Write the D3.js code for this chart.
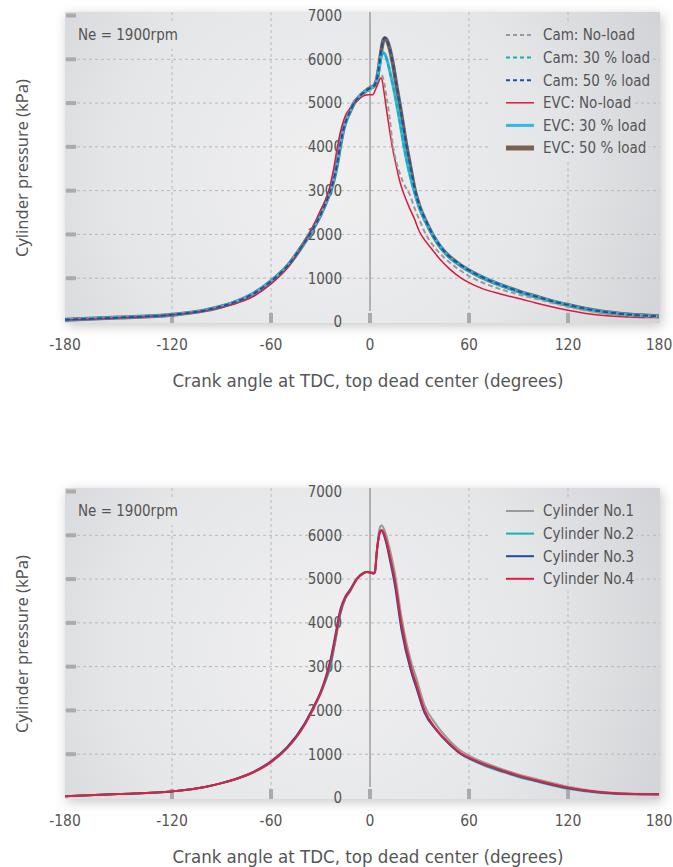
<!DOCTYPE html>
<html>
<head>
<meta charset="utf-8">
<script src="https://cdn.jsdelivr.net/npm/d3@7"></script>
<style>
  body { margin: 0; background: #fff; }
  svg { display: block; }
  .cond { font-family: "Liberation Sans Narrow", "DejaVu Sans Condensed", sans-serif; fill: #555; }
  .reg { font-family: "Noto Sans", "Open Sans", sans-serif; fill: #555; }
</style>
</head>
<body>
<div id="chart"></div>
<script>
// crank angles (deg) and pressures (kPa)
var angTop = [-180,-150,-120,-100,-90,-80,-70,-60,-50,-40,
  -35,-30,-25,-22,-20,-18,-16,-14,-12,-10,
  -7,-5,-3,-1,0,1,2,3,4,5,
  6,7,8,9,10,11,12,14,16,18,
  20,22,24,27,30,34,38,42,48,55,
  60,67,79,92,100,110,120,140,160,180];

var camNoLoad = [50,100,166,265,355,480,660,930,1280,1800,
  2110,2460,2900,3260,3610,4080,4450,4690,4850,4990,
  5110,5180,5240,5280,5300,5320,5350,5400,5470,5560,
  5640,5650,5560,5380,5150,4900,4620,4000,3650,3400,
  3200,3050,2920,2600,2330,1990,1760,1580,1370,1170,
  1050,920,750,610,535,440,350,215,145,115];
var cam30 = [50,100,166,265,355,480,660,930,1280,1800,
  2100,2450,2900,3250,3600,4050,4420,4650,4820,4980,
  5120,5200,5260,5310,5330,5350,5370,5410,5500,5680,
  5900,6080,6140,6110,6020,5880,5720,5380,5000,4580,
  4130,3720,3380,2950,2600,2260,1980,1740,1480,1280,
  1165,1030,840,670,580,472,382,245,166,127];
var cam50 = [50,100,166,265,355,480,660,930,1280,1800,
  2100,2450,2900,3250,3600,4050,4420,4650,4820,4980,
  5120,5200,5260,5320,5340,5360,5380,5420,5520,5720,
  5980,6250,6440,6500,6460,6370,6240,5880,5420,4980,
  4520,4050,3650,3050,2650,2300,2000,1760,1500,1300,
  1180,1040,850,680,590,480,390,250,170,130];
var evcNoLoad = [45,90,160,250,330,440,600,870,1240,1800,
  2150,2550,3000,3500,3950,4330,4600,4780,4880,4980,
  5080,5140,5180,5190,5190,5190,5200,5280,5370,5460,
  5550,5570,5380,5120,4850,4600,4350,3900,3550,3220,
  2980,2780,2600,2350,2060,1830,1640,1450,1220,1010,
  900,780,640,520,440,350,270,160,115,100];
var evc30 = [50,100,166,265,355,480,660,930,1280,1800,
  2100,2450,2900,3250,3600,4050,4420,4650,4820,4980,
  5120,5200,5260,5310,5330,5350,5370,5410,5500,5690,
  5920,6100,6150,6120,6030,5890,5730,5390,5010,4590,
  4140,3730,3390,2960,2610,2270,1990,1750,1485,1285,
  1170,1035,845,675,585,476,386,247,168,128];
var evc50 = [50,100,166,265,355,480,660,930,1280,1800,
  2100,2450,2900,3250,3600,4050,4420,4650,4820,4980,
  5120,5200,5260,5320,5340,5360,5380,5420,5520,5710,
  5970,6230,6420,6480,6450,6360,6230,5870,5410,4970,
  4510,4040,3640,3040,2640,2290,1990,1750,1495,1295,
  1175,1037,847,678,588,478,388,249,169,129];

var angBot = [-180,-150,-120,-100,-90,-80,-70,-60,-50,-40,
  -35,-30,-27,-24,-21,-18,-15,-12,-8,-4,
  -2,0,2,3,4,5,6,7,8,10,
  12,15,19,25,28,33,40,48,55,60,
  70,80,90,100,120,140,160,180];

var cyl1 = [40,90,150,250,340,450,600,820,1150,1650,
  2000,2380,2680,3060,3600,4200,4540,4720,4990,5130,
  5170,5170,5150,5180,5550,5950,6180,6230,6180,5980,
  5680,5150,4150,3100,2750,2120,1680,1320,1080,970,
  800,660,540,440,260,150,102,88];
var cyl2 = [40,90,150,250,340,450,600,820,1150,1650,
  2000,2380,2660,3000,3580,4200,4560,4730,4990,5130,
  5160,5150,5130,5160,5600,5900,6080,6110,6070,5840,
  5510,4970,3970,2950,2590,1990,1570,1230,1000,900,
  730,600,480,385,210,120,86,80];
var cyl3 = [40,90,150,250,340,450,610,840,1170,1680,
  2030,2420,2740,3150,3720,4300,4600,4760,5010,5140,
  5160,5150,5130,5150,5560,5870,6070,6110,6050,5800,
  5450,4880,3860,2880,2530,1950,1560,1230,1010,910,
  750,620,500,400,228,130,92,84];
var cyl4 = [40,90,150,250,340,450,600,820,1150,1650,
  2000,2400,2700,3100,3650,4250,4570,4740,5000,5130,
  5160,5150,5130,5160,5600,5900,6080,6120,6080,5850,
  5520,4980,3980,2960,2600,2000,1580,1250,1020,920,
  760,630,510,410,235,135,95,85];

var xTicks = [-180,-120,-60,0,60,120,180];
var yTicks = [0,1000,2000,3000,4000,5000,6000,7000];

var topSeries = [
  { name: "EVC: 50 % load", values: evc50, color: "#7a6251", width: 4, dash: null },
  { name: "EVC: 30 % load", values: evc30, color: "#33b8e3", width: 3, dash: null },
  { name: "EVC: No-load", values: evcNoLoad, color: "#d91a3c", width: 1.5, dash: null },
  { name: "Cam: No-load", values: camNoLoad, color: "#9a9a9a", width: 2, dash: "5,3" },
  { name: "Cam: 30 % load", values: cam30, color: "#16aeae", width: 2, dash: "5,3" },
  { name: "Cam: 50 % load", values: cam50, color: "#1c4fa3", width: 2, dash: "5,3" }
];
var topLegend = ["Cam: No-load","Cam: 30 % load","Cam: 50 % load","EVC: No-load","EVC: 30 % load","EVC: 50 % load"];

var botSeries = [
  { name: "Cylinder No.1", values: cyl1, color: "#9a9a9a", width: 2, dash: null },
  { name: "Cylinder No.2", values: cyl2, color: "#12b5b0", width: 2, dash: null },
  { name: "Cylinder No.3", values: cyl3, color: "#1d4d9e", width: 2, dash: null },
  { name: "Cylinder No.4", values: cyl4, color: "#e0203f", width: 2, dash: null }
];
var botLegend = ["Cylinder No.1","Cylinder No.2","Cylinder No.3","Cylinder No.4"];

var width = 673, height = 867;
var svg = d3.select("#chart").append("svg")
  .attr("width", width).attr("height", height);
var defs = svg.append("defs");

var shadow = defs.append("filter").attr("id", "shadow")
  .attr("x", "-10%").attr("y", "-10%").attr("width", "120%").attr("height", "120%");
shadow.append("feDropShadow").attr("dx", 2).attr("dy", 3)
  .attr("stdDeviation", 6).attr("flood-color", "#000").attr("flood-opacity", 0.22);

// same x scale for both panels (uneven ends as in the picture)
var x = d3.scaleLinear()
  .domain([-180, -120, 120, 180])
  .range([65, 172, 568, 659]);

function panel(off, angles, series, legendNames, id) {
  var px0 = 65, px1 = 660, pyTop = 12 + off, pyBot = 323 + off;
  var y = d3.scaleLinear().domain([0, 7000]).range([322 + off, 15.5 + off]);
  var rowY = i => 35 + off + i * 22.6;

  var grad = defs.append("radialGradient").attr("id", id)
    .attr("gradientUnits", "userSpaceOnUse")
    .attr("cx", 330).attr("cy", 175 + off).attr("r", 360);
  grad.append("stop").attr("offset", 0).attr("stop-color", "#f0f0f1");
  grad.append("stop").attr("offset", 0.6).attr("stop-color", "#e5e6e8");
  grad.append("stop").attr("offset", 1).attr("stop-color", "#d3d4d7");

  var g = svg.append("g");
  // shadow drawn separately so the plot fill stays unfiltered
  g.append("rect").attr("x", px0).attr("y", pyTop)
    .attr("width", px1 - px0).attr("height", pyBot - pyTop)
    .attr("fill", "#ddd").attr("filter", "url(#shadow)");
  g.append("rect").attr("x", px0).attr("y", pyTop)
    .attr("width", px1 - px0).attr("height", pyBot - pyTop)
    .attr("fill", "url(#" + id + ")");

  // grid
  g.append("g").selectAll("line").data(yTicks.filter(d => d > 0 && d < 7000)).join("line")
    .attr("x1", px0).attr("x2", px1).attr("y1", d => y(d)).attr("y2", d => y(d))
    .attr("stroke", "#b8b8b8").attr("stroke-dasharray", "3,3");
  g.append("g").selectAll("line").data(xTicks.filter(d => d != 0 && Math.abs(d) < 180)).join("line")
    .attr("x1", d => x(d)).attr("x2", d => x(d)).attr("y1", pyTop).attr("y2", pyBot)
    .attr("stroke", "#b8b8b8").attr("stroke-dasharray", "3,3");

  // text boxes hide grid behind them (no transforms, so the gradient lines up)
  var noteBox = g.append("rect").attr("fill", "url(#" + id + ")");
  var noteText = g.append("text").attr("class", "cond")
    .attr("x", 78).attr("y", 35 + off).attr("dy", "0.35em")
    .style("font-size", "15px").text("Ne = 1900rpm");
  var nw = noteText.node().getComputedTextLength();
  noteBox.attr("x", 70).attr("y", 22 + off).attr("width", nw + 14).attr("height", 27);

  var legBoxes = g.append("g").selectAll("rect").data(legendNames).join("rect")
    .attr("fill", "url(#" + id + ")");

  // axis tick marks
  g.append("g").selectAll("rect").data(yTicks.filter(d => d > 0)).join("rect")
    .attr("x", px0 + 1).attr("y", d => y(d) - 2).attr("width", 10).attr("height", 4)
    .attr("fill", "#ababab");
  g.append("g").selectAll("rect").data(xTicks.filter(d => Math.abs(d) < 180)).join("rect")
    .attr("x", d => x(d) - 2).attr("y", pyBot - 10).attr("width", 4).attr("height", 10)
    .attr("fill", "#ababab");

  // TDC line
  g.append("line").attr("x1", x(0)).attr("x2", x(0))
    .attr("y1", pyTop).attr("y2", pyBot - 12)
    .attr("stroke", "#9c9c9c").attr("stroke-width", 1.5);

  // tick labels
  g.append("g").selectAll("text").data(yTicks).join("text").attr("class", "cond")
    .attr("x", 342).attr("y", d => y(d)).attr("dy", "0.36em")
    .attr("text-anchor", "end").style("font-size", "15px").text(d => d);
  g.append("g").selectAll("text").data(xTicks).join("text").attr("class", "cond")
    .attr("x", d => x(d)).attr("y", 344 + off).attr("dy", "0.36em")
    .attr("text-anchor", "middle").style("font-size", "15.5px").text(d => d);

  g.append("text").attr("class", "cond")
    .attr("x", 368).attr("y", 380 + off).attr("dy", "0.36em")
    .attr("text-anchor", "middle").style("font-size", "18.5px")
    .text("Crank angle at TDC, top dead center (degrees)");
  g.append("text").attr("class", "reg")
    .attr("transform", "translate(22," + (168 + off) + ") rotate(-90)")
    .attr("dy", "0.36em").attr("text-anchor", "middle").style("font-size", "16.5px")
    .text("Cylinder pressure (kPa)");

  // curves
  var line = d3.line()
    .x((d, i) => x(angles[i]))
    .y(d => y(d))
    .curve(d3.curveMonotoneX);
  g.append("g").selectAll("path").data(series).join("path")
    .attr("d", d => line(d.values))
    .attr("fill", "none")
    .attr("stroke", d => d.color)
    .attr("stroke-width", d => d.width)
    .attr("stroke-dasharray", d => d.dash)
    .attr("stroke-linejoin", "round");

  // legend samples and names
  var byName = {};
  series.forEach(s => byName[s.name] = s);
  g.append("g").selectAll("line").data(legendNames).join("line")
    .attr("x1", 506).attr("x2", 534)
    .attr("y1", (d, i) => rowY(i)).attr("y2", (d, i) => rowY(i))
    .attr("stroke", d => byName[d].color)
    .attr("stroke-width", d => byName[d].width >= 4 ? 5 : byName[d].width)
    .attr("stroke-dasharray", d => byName[d].dash ? "4,3" : null);
  var legText = g.append("g").selectAll("text").data(legendNames).join("text")
    .attr("class", "cond")
    .attr("x", 543).attr("y", (d, i) => rowY(i)).attr("dy", "0.36em")
    .style("font-size", "15px").text(d => d);
  legText.each(function (d, i) {
    var w = this.getComputedTextLength();
    d3.select(legBoxes.nodes()[i]).attr("x", 490).attr("y", rowY(i) - 11)
      .attr("width", 543 + w + 2 - 490).attr("height", 23);
  });
}

panel(0, angTop, topSeries, topLegend, "bgTop");
panel(476, angBot, botSeries, botLegend, "bgBot");
</script>
</body>
</html>
